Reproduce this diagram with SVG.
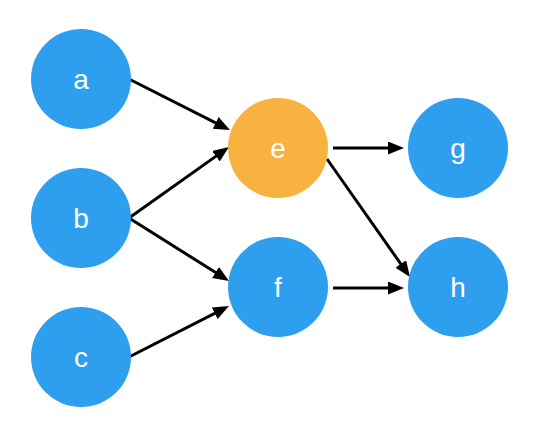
<svg xmlns="http://www.w3.org/2000/svg" width="552" height="422" viewBox="0 0 552 422">
<style>
.blue{fill:#2E9FEF}
.orange{fill:#F7B23F}
.lbl{fill:#fff;font-family:"Liberation Sans",Arial,sans-serif;font-size:28px;text-anchor:middle}
.edge{stroke:#000;stroke-width:3;fill:none;marker-end:url(#ah)}
</style>
<defs>
<marker id="ah" markerUnits="userSpaceOnUse" markerWidth="17" markerHeight="14" refX="11" refY="6.5" orient="auto">
<path d="M0,0 L16,6.5 L0,13 z" fill="#000"/>
</marker>
</defs>
<rect width="552" height="422" fill="#fff"/>
<g id="connectors">
<line class="edge" x1="129" y1="79" x2="225.5" y2="127.8"/>
<line class="edge" x1="129" y1="218" x2="224.9" y2="149.9"/>
<line class="edge" x1="129" y1="218" x2="224.8" y2="278.3"/>
<line class="edge" x1="129" y1="357" x2="224.5" y2="308.3"/>
<line class="edge" x1="333" y1="148" x2="399" y2="148"/>
<line class="edge" x1="327" y1="159" x2="407.1" y2="272.9"/>
<line class="edge" x1="333" y1="288" x2="399" y2="288"/>
</g>
<g id="node-a"><circle class="blue" cx="81" cy="79" r="50"/><text class="lbl" x="81" y="89">a</text></g>
<g id="node-b"><circle class="blue" cx="81" cy="218" r="50"/><text class="lbl" x="81" y="228">b</text></g>
<g id="node-c"><circle class="blue" cx="81" cy="357" r="50"/><text class="lbl" x="81" y="367">c</text></g>
<g id="node-e"><circle class="orange" cx="278" cy="148" r="50"/><text class="lbl" x="278" y="158">e</text></g>
<g id="node-f"><circle class="blue" cx="278" cy="287" r="50"/><text class="lbl" x="278" y="297">f</text></g>
<g id="node-g"><circle class="blue" cx="458" cy="148" r="50"/><text class="lbl" x="458" y="158">g</text></g>
<g id="node-h"><circle class="blue" cx="458" cy="287" r="50"/><text class="lbl" x="458" y="297">h</text></g>
</svg>
